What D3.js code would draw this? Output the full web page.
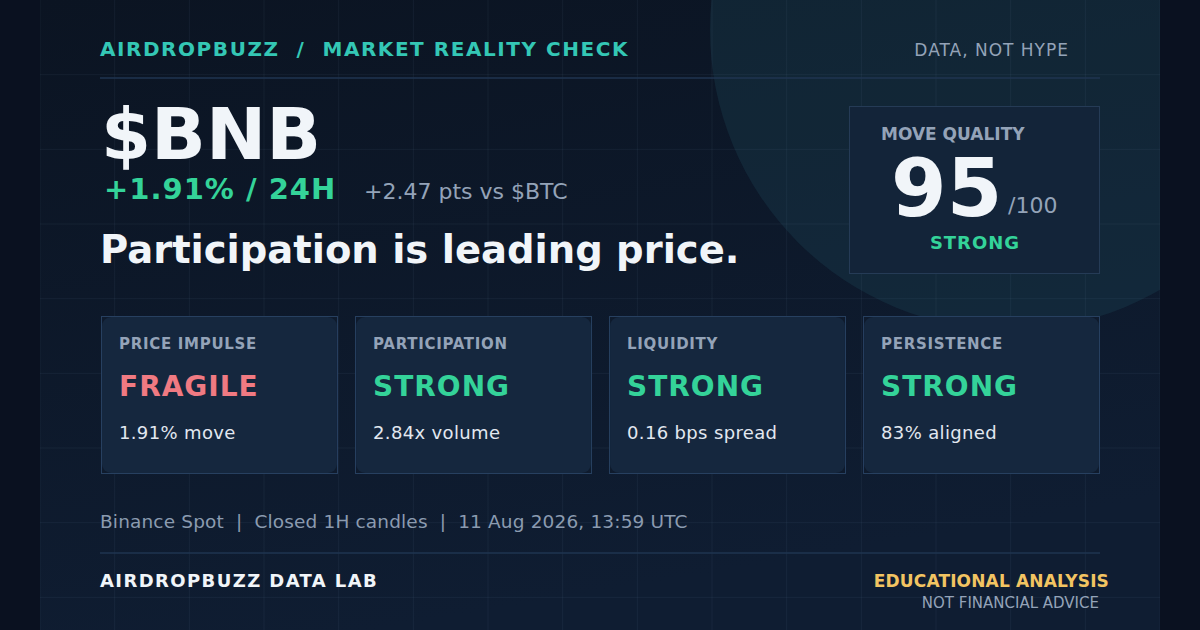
<!DOCTYPE html>
<html>
<head>
<meta charset="utf-8">
<script src="https://cdn.jsdelivr.net/npm/d3@7"></script>
<style>
  html, body { margin: 0; padding: 0; background: #0a1120; }
  svg { display: block; font-family: "DejaVu Sans", sans-serif; }
</style>
</head>
<body>
<div id="card"></div>
<script>
// Card content
const ticker = "$BNB";
const change24h = "+1.91% / 24H";
const vsBtc = "+2.47 pts vs $BTC";
const headline = "Participation is leading price.";
const qualityScore = 95;
const qualityMax = 100;
const qualityLabel = "STRONG";

const metricNames = ["PRICE IMPULSE", "PARTICIPATION", "LIQUIDITY", "PERSISTENCE"];
const metricStatus = ["FRAGILE", "STRONG", "STRONG", "STRONG"];
const metricDetail = ["1.91% move", "2.84x volume", "0.16 bps spread", "83% aligned"];

const metaParts = ["Binance Spot", "Closed 1H candles", "11 Aug 2026, 13:59 UTC"];

const W = 1200, H = 630;
const statusColor = { STRONG: "#34d399", FRAGILE: "#f07a82" };

const svg = d3.select('#card').append('svg').attr('width', W).attr('height', H);
const defs = svg.append('defs');

const bg = defs.append('linearGradient').attr('id', 'bg').attr('x1', 0).attr('y1', 0).attr('x2', 0.3).attr('y2', 1);
bg.append('stop').attr('offset', '0%').attr('stop-color', '#0b1422');
bg.append('stop').attr('offset', '100%').attr('stop-color', '#0f1d32');

defs.append('clipPath').attr('id', 'panelClip')
    .append('rect').attr('x', 40).attr('y', 0).attr('width', 1120).attr('height', H);

svg.append('rect').attr('width', W).attr('height', H).attr('fill', '#0a1120');
svg.append('rect').attr('x', 40).attr('y', 0).attr('width', 1120).attr('height', H).attr('fill', 'url(#bg)');

const panel = svg.append('g').attr('clip-path', 'url(#panelClip)');

// glow circle top right
panel.append('circle').attr('cx', 1010).attr('cy', 30).attr('r', 300)
    .attr('fill', '#1e4a5a').attr('opacity', 0.3);

// background grid, 15 cells across the panel
const step = 1120 / 15;
const gx = d3.scaleLinear().domain([0, 15]).range([40, 1160]);
panel.selectAll('.vline').data(d3.range(0, 16)).enter().append('line')
    .attr('x1', d => gx(d)).attr('x2', d => gx(d)).attr('y1', 0).attr('y2', H)
    .attr('stroke', '#8fb3d9').attr('stroke-opacity', 0.07);
panel.selectAll('.hline').data(d3.range(1, 9)).enter().append('line')
    .attr('x1', 40).attr('x2', 1160).attr('y1', d => d * step).attr('y2', d => d * step)
    .attr('stroke', '#8fb3d9').attr('stroke-opacity', 0.07);

// header
svg.append('text').attr('x', 100).attr('y', 56)
    .attr('font-size', 20).attr('font-weight', 'bold').attr('letter-spacing', 1.55)
    .attr('fill', '#34c7b5').attr('xml:space', 'preserve')
    .text("AIRDROPBUZZ  /  MARKET REALITY CHECK");
svg.append('text').attr('x', 1069).attr('y', 56).attr('text-anchor', 'end')
    .attr('font-size', 17).attr('letter-spacing', 1).attr('fill', '#94a3b8')
    .text("DATA, NOT HYPE");
svg.append('line').attr('x1', 100).attr('x2', 1100).attr('y1', 78).attr('y2', 78)
    .attr('stroke', '#1f3550').attr('stroke-width', 1.5);

// ticker block
svg.append('text').attr('x', 101).attr('y', 159)
    .attr('font-size', 72).attr('font-weight', 'bold').attr('fill', '#f1f5f9')
    .text(ticker);
svg.append('text').attr('x', 104).attr('y', 199)
    .attr('font-size', 29).attr('font-weight', 'bold').attr('letter-spacing', 1)
    .attr('fill', '#34d399')
    .text(change24h);
svg.append('text').attr('x', 364).attr('y', 199)
    .attr('font-size', 22).attr('fill', '#94a3b8')
    .text(vsBtc);
svg.append('text').attr('x', 100).attr('y', 263)
    .attr('font-size', 38.5).attr('font-weight', 'bold').attr('fill', '#f1f5f9')
    .text(headline);

// move quality box
const q = svg.append('g');
q.append('rect').attr('x', 849.5).attr('y', 106.5).attr('width', 250).attr('height', 167)
    .attr('fill', '#132439').attr('stroke', '#253b56').attr('stroke-width', 1);
q.append('text').attr('x', 881).attr('y', 140)
    .attr('font-size', 17).attr('font-weight', 'bold').attr('fill', '#94a3b8')
    .text("MOVE QUALITY");
q.append('text').attr('x', 891).attr('y', 216)
    .attr('font-size', 80).attr('font-weight', 'bold').attr('fill', '#f1f5f9')
    .text(qualityScore);
q.append('text').attr('x', 1008).attr('y', 213)
    .attr('font-size', 22).attr('fill', '#94a3b8')
    .text("/" + qualityMax);
q.append('text').attr('x', 975).attr('y', 249).attr('text-anchor', 'middle')
    .attr('font-size', 18).attr('font-weight', 'bold').attr('letter-spacing', 1)
    .attr('fill', statusColor[qualityLabel])
    .text(qualityLabel);

// metric cards
const x = d3.scaleBand().domain(metricNames).range([101, 1099]).paddingInner(0.071);
const cardTop = 316, cardH = 157;

const cards = svg.selectAll('.metric').data(metricNames).enter().append('g')
    .attr('class', 'metric')
    .attr('transform', d => `translate(${x(d)},${cardTop})`);

cards.append('rect').attr('x', 0.5).attr('y', 0.5)
    .attr('width', x.bandwidth()).attr('height', cardH)
    .attr('fill', '#0f1b2d');
cards.append('rect').attr('x', 1).attr('y', 1)
    .attr('width', x.bandwidth() - 1).attr('height', cardH - 1).attr('rx', 9)
    .attr('fill', '#15273e');
cards.append('rect').attr('x', 0.5).attr('y', 0.5)
    .attr('width', x.bandwidth()).attr('height', cardH)
    .attr('fill', 'none').attr('stroke', '#274060').attr('stroke-width', 1);

cards.append('text').attr('x', 18).attr('y', 33)
    .attr('font-size', 15).attr('font-weight', 'bold').attr('letter-spacing', 0.7)
    .attr('fill', '#94a3b8')
    .text(d => d);
cards.append('text').attr('x', 18).attr('y', 80)
    .attr('font-size', 28).attr('font-weight', 'bold').attr('letter-spacing', 1)
    .attr('fill', (d, i) => statusColor[metricStatus[i]])
    .text((d, i) => metricStatus[i]);
cards.append('text').attr('x', 18).attr('y', 123)
    .attr('font-size', 18).attr('letter-spacing', 0.35).attr('fill', '#e2e8f0')
    .text((d, i) => metricDetail[i]);

// footer
svg.append('text').attr('x', 100).attr('y', 528)
    .attr('font-size', 18.5).attr('letter-spacing', 0.15)
    .attr('fill', '#8b9bb0').attr('xml:space', 'preserve')
    .text(metaParts.join("  |  "));
svg.append('line').attr('x1', 100).attr('x2', 1100).attr('y1', 553).attr('y2', 553)
    .attr('stroke', '#1f3550').attr('stroke-width', 1.5);
svg.append('text').attr('x', 100).attr('y', 587)
    .attr('font-size', 18).attr('font-weight', 'bold').attr('letter-spacing', 1.4)
    .attr('fill', '#f1f5f9')
    .text("AIRDROPBUZZ DATA LAB");
svg.append('text').attr('x', 1109).attr('y', 587).attr('text-anchor', 'end')
    .attr('font-size', 17).attr('font-weight', 'bold').attr('letter-spacing', 0.15)
    .attr('fill', '#f2c462')
    .text("EDUCATIONAL ANALYSIS");
svg.append('text').attr('x', 1099).attr('y', 608).attr('text-anchor', 'end')
    .attr('font-size', 15).attr('fill', '#94a3b8')
    .text("NOT FINANCIAL ADVICE");
</script>
</body>
</html>
